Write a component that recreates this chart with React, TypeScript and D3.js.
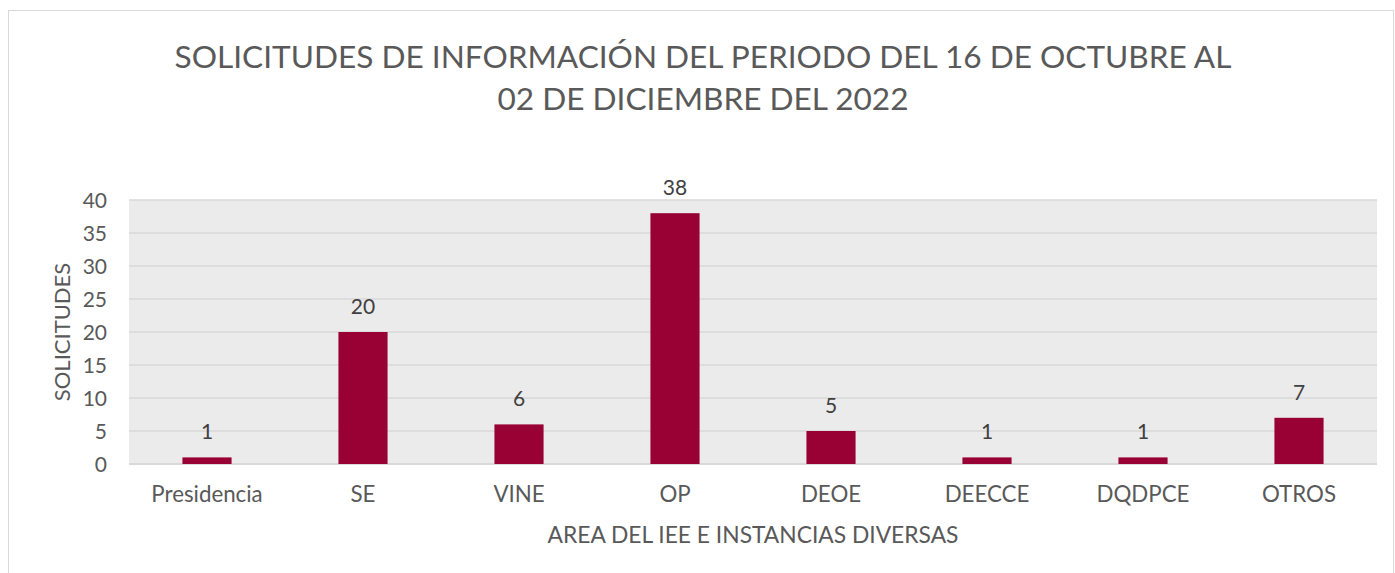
import React from "react";
import * as d3 from "d3";

const categories = ["Presidencia", "SE", "VINE", "OP", "DEOE", "DEECCE", "DQDPCE", "OTROS"];
const values = [1, 20, 6, 38, 5, 1, 1, 7];
const yTicks = [0, 5, 10, 15, 20, 25, 30, 35, 40];
const titleLines = ["SOLICITUDES DE INFORMACIÓN DEL PERIODO DEL 16 DE OCTUBRE AL", "02 DE DICIEMBRE DEL 2022"];
const xTitle = "AREA DEL IEE E INSTANCIAS DIVERSAS";
const yTitle = "SOLICITUDES";

const W = 1395, H = 573;
const plot = { left: 129, right: 1377, top: 200, bottom: 464 };
const font = "Lato, 'Open Sans', sans-serif";

export default function App() {
  const x = d3.scaleBand<string>().domain(categories).range([plot.left, plot.right]).paddingInner(0.685).paddingOuter(0.3425);
  const y = d3.scaleLinear().domain([0, 40]).range([plot.bottom, plot.top]);
  return (
    <svg width={W} height={H} style={{ position: "absolute", left: 0, top: 0, fontFamily: font }}>
      <rect x={0} y={0} width={W} height={H} fill="#fff" />
      <rect x={8.5} y={10.5} width={W - 10} height={H} fill="#fff" stroke="#d9d9d9" />
      {titleLines.map((t, i) => (
        <text key={i} x={703} y={68 + i * 42} textAnchor="middle" fontSize={31.6} fill="#595959">{t}</text>
      ))}
      <rect x={plot.left} y={plot.top} width={plot.right - plot.left} height={plot.bottom - plot.top} fill="#ebebeb" />
      {yTicks.map((t) => (
        <g key={t}>
          <line x1={plot.left} x2={plot.right} y1={y(t)} y2={y(t)} stroke="#d9d9d9" strokeWidth={t === 0 ? 2 : 1.5} />
          <text x={107} y={y(t)} dy="0.36em" textAnchor="end" fontSize={21} fill="#595959">{t}</text>
        </g>
      ))}
      {categories.map((c, i) => (
        <g key={c}>
          <rect x={x(c)} y={y(values[i])} width={x.bandwidth()} height={y(0) - y(values[i])} fill="#990033" />
          <text x={x(c)! + x.bandwidth() / 2} y={y(values[i]) - 18} textAnchor="middle" fontSize={21} fill="#404040">{values[i]}</text>
          <text x={x(c)! + x.bandwidth() / 2} y={502} textAnchor="middle" fontSize={22.3} fill="#595959">{c}</text>
        </g>
      ))}
      <text x={753} y={543} textAnchor="middle" fontSize={22.8} fill="#595959">{xTitle}</text>
      <text transform={`translate(70,332) rotate(-90)`} textAnchor="middle" fontSize={22} fill="#595959">{yTitle}</text>
    </svg>
  );
}
